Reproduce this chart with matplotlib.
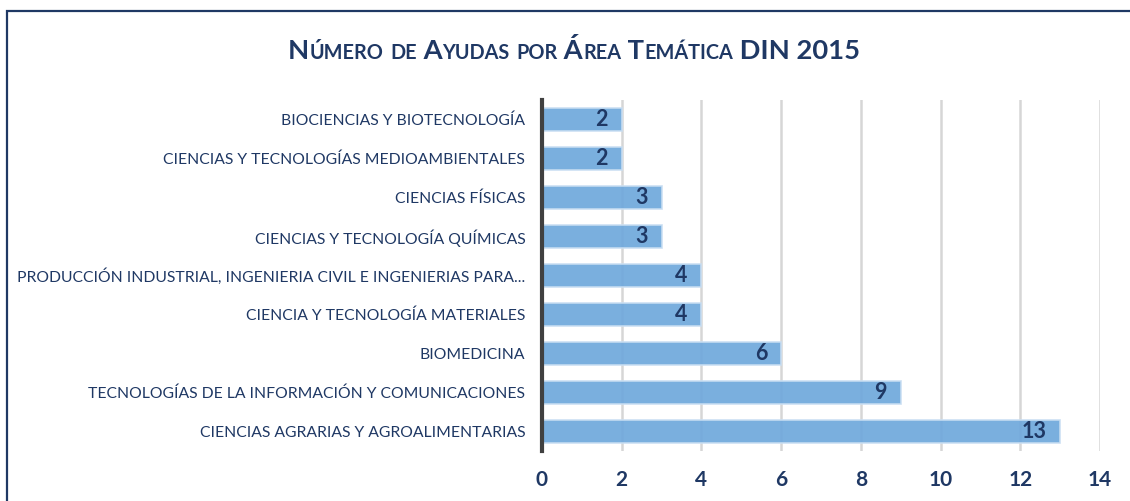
import matplotlib
matplotlib.use("Agg")
import matplotlib.pyplot as plt
from matplotlib.patches import Rectangle

plt.rcParams['font.family'] = ['Lato', 'DejaVu Sans']

# data, top to bottom as shown
areas = [
    "BIOCIENCIAS Y BIOTECNOLOGÍA",
    "CIENCIAS Y TECNOLOGÍAS MEDIOAMBIENTALES",
    "CIENCIAS FÍSICAS",
    "CIENCIAS Y TECNOLOGÍA QUÍMICAS",
    "PRODUCCIÓN INDUSTRIAL, INGENIERIA CIVIL E INGENIERIAS PARA...",
    "CIENCIA Y TECNOLOGÍA MATERIALES",
    "BIOMEDICINA",
    "TECNOLOGÍAS DE LA INFORMACIÓN Y COMUNICACIONES",
    "CIENCIAS AGRARIAS Y AGROALIMENTARIAS",
]
ayudas = [2, 2, 3, 3, 4, 4, 6, 9, 13]
xticks = [0, 2, 4, 6, 8, 10, 12, 14]
title = "Número de Ayudas por Área Temática DIN 2015"

navy = '#1f3864'
bar_col = '#6fa8dc'

fig = plt.figure(figsize=(11.3, 5.01), dpi=100)
ax = fig.add_axes([542 / 1130, 1 - 451 / 501, 558 / 1130, 351 / 501])

ypos = list(range(len(areas)))
ax.barh(ypos, ayudas, height=0.57, color=bar_col, edgecolor='#c9def2',
        linewidth=1.2, alpha=0.92, zorder=2)
for y, v in zip(ypos, ayudas):
    ax.annotate(str(v), (v, y), xytext=(-10, 0), textcoords='offset points',
                ha='right', va='center', fontsize=15.5, fontweight='bold',
                color=navy, zorder=3)

ax.set_xlim(0, 14)
ax.set_ylim(len(areas) - 0.5, -0.5)
ax.set_xticks(xticks)
ax.set_yticks(ypos)
ax.set_yticklabels(areas, fontsize=11.3, color=navy)
ax.tick_params(axis='y', length=0, pad=12)
ax.tick_params(axis='x', length=0, pad=14, labelsize=15, labelcolor=navy)
for lbl in ax.get_xticklabels():
    lbl.set_fontweight('bold')
ax.grid(axis='x', color='#d6d6d6', linewidth=1.8, zorder=0)
ax.set_axisbelow(True)
for s in ['top', 'right', 'bottom']:
    ax.spines[s].set_visible(False)
ax.spines['left'].set_color('#404040')
ax.spines['left'].set_linewidth(3)
ax.spines['left'].set_zorder(4)

# outer frame (runs off the right and bottom edges)
fig.patches.append(Rectangle((7 / 1130, -0.2), 1.5, 1.2 - 11 / 501,
                             transform=fig.transFigure, fill=False,
                             edgecolor=navy, linewidth=1.6))

# small-caps title, built from runs of big and small letters
big, small = 19.7, 14.3
runs = []
for ch in title:
    if ch.isupper() or ch.isdigit() or ch == ' ':
        size = big
    else:
        size = small
    if runs and runs[-1][1] == size:
        runs[-1][0] += ch.upper()
    else:
        runs.append([ch.upper(), size])

renderer = fig.canvas.get_renderer()
texts = []
for txt, size in runs:
    t = fig.text(0, 0, txt, fontsize=size, fontweight='bold',
                 color=navy, ha='left', va='baseline')
    texts.append(t)
widths = [t.get_window_extent(renderer).width for t in texts]
total = sum(widths)
x = 574 - total / 2
for t, w in zip(texts, widths):
    t.set_x(x / 1130)
    t.set_y(1 - 59 / 501)
    x += w

fig.savefig('out.png', dpi=100)
